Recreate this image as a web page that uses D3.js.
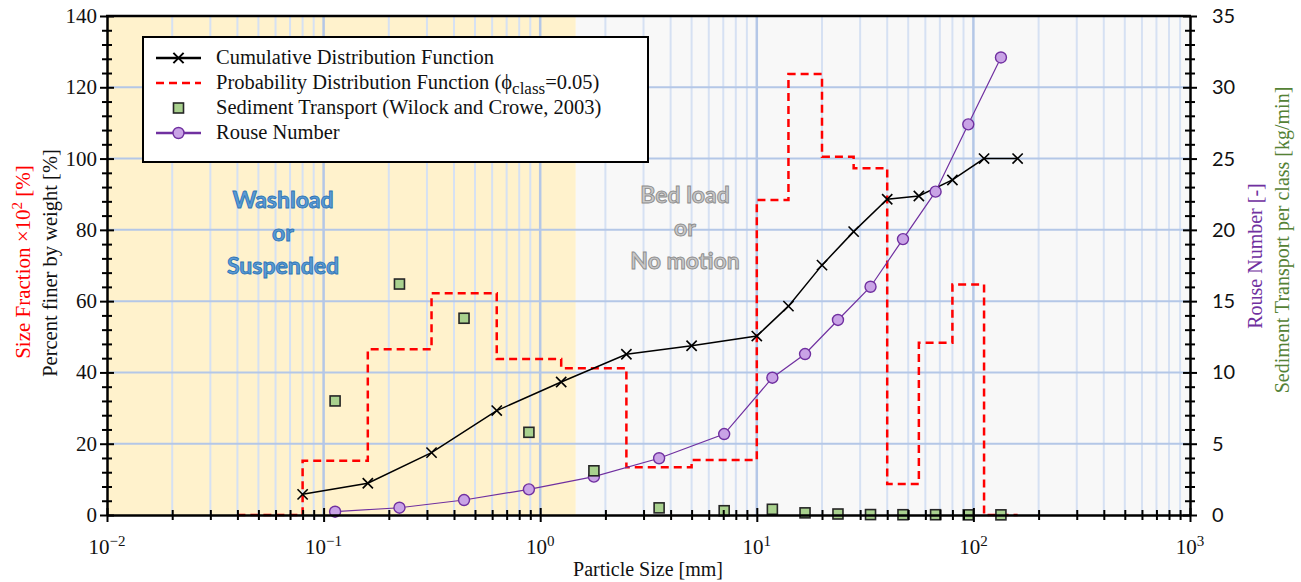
<!DOCTYPE html>
<html>
<head>
<meta charset="utf-8">
<script src="https://cdn.jsdelivr.net/npm/d3@7"></script>
<style>
  html, body { margin: 0; padding: 0; background: #ffffff; }
</style>
</head>
<body>
<script>
// sieve sizes [mm] and cumulative percent finer
const sieveSizes = [0.08, 0.16, 0.315, 0.63, 1.25, 2.5, 5, 10, 14, 20, 28, 40, 56, 80, 112, 160];
const cdfValues = [5.8, 8.9, 17.5, 29.3, 37.3, 45.1, 47.5, 50.2, 58.6, 70.1, 79.5, 88.6, 89.5, 94.0, 100, 100];

// size fraction per class (x10^2 %), class edges
const pdfEdges = [0.04, 0.08, 0.16, 0.315, 0.63, 1.25, 2.5, 5, 10, 14, 20, 28, 40, 56, 80, 112, 160];
const pdfValues = [0, 15.2, 46.5, 62.2, 43.8, 41.2, 13.4, 15.4, 88.4, 123.7, 100.5, 97.3, 8.7, 48.3, 64.7, 0];

// class mean sizes, Rouse number and transport rate
const classMeans = [0.113, 0.224, 0.445, 0.887, 1.77, 3.54, 7.07, 11.8, 16.7, 23.7, 33.5, 47.3, 66.9, 94.7, 134];
const rouseValues = [0.23, 0.51, 1.05, 1.80, 2.69, 3.98, 5.68, 9.63, 11.29, 13.68, 16.01, 19.35, 22.68, 27.40, 32.09];
const transportValues = [8.0, 16.2, 13.8, 5.8, 3.1, 0.5, 0.3, 0.4, 0.15, 0.07, 0.03, 0.02, 0.02, 0.01, 0.01];

const washloadLimit = 1.46;
const xTickExps = [-2, -1, 0, 1, 2, 3];
const leftTicks = [0, 20, 40, 60, 80, 100, 120, 140];
const rightTicks = [0, 5, 10, 15, 20, 25, 30, 35];

const W = 1301, H = 582;
const pL = 107, pR = 1190, pT = 16, pB = 515;
const serif = "'Liberation Serif', 'Times New Roman', serif";
const sans = "Lato, 'Open Sans', sans-serif";

const svg = d3.select('body').append('svg')
  .attr('width', W)
  .attr('height', H)
  .attr('xmlns', 'http://www.w3.org/2000/svg');

const x = d3.scaleLog().domain([0.01, 1000]).range([pL, pR]);
const yL = d3.scaleLinear().domain([0, 140]).range([pB, pT]);
const yR = d3.scaleLinear().domain([0, 35]).range([pB, pT]);

// background zones
svg.append('rect')
  .attr('x', pL).attr('y', pT)
  .attr('width', x(washloadLimit) - pL).attr('height', pB - pT)
  .attr('fill', '#fff2cc');
svg.append('rect')
  .attr('x', x(washloadLimit)).attr('y', pT)
  .attr('width', pR - x(washloadLimit)).attr('height', pB - pT)
  .attr('fill', '#f8f8f8');

// grid
const xAll = x.ticks();
const isDecade = d => Math.abs(Math.log10(d) - Math.round(Math.log10(d))) < 1e-9;
svg.append('g').selectAll('line')
  .data(xAll.filter(d => !isDecade(d)))
  .join('line')
  .attr('x1', d => x(d)).attr('x2', d => x(d))
  .attr('y1', pT).attr('y2', pB)
  .attr('stroke', '#d6e1f3').attr('stroke-width', 2);
svg.append('g').selectAll('line')
  .data(leftTicks.slice(1, -1))
  .join('line')
  .attr('x1', pL).attr('x2', pR)
  .attr('y1', d => yL(d)).attr('y2', d => yL(d))
  .attr('stroke', '#b4c7e7').attr('stroke-width', 2);
svg.append('g').selectAll('line')
  .data(xAll.filter(isDecade).slice(1, -1))
  .join('line')
  .attr('x1', d => x(d)).attr('x2', d => x(d))
  .attr('y1', pT).attr('y2', pB)
  .attr('stroke', '#b4c7e7').attr('stroke-width', 2.5);

// zone labels
function zoneLabel(lines, cx, y0, fill, stroke) {
  const t = svg.append('text')
    .attr('text-anchor', 'middle')
    .attr('font-family', sans)
    .attr('font-weight', 'bold')
    .attr('font-size', 23)
    .attr('fill', fill)
    .attr('stroke', stroke)
    .attr('stroke-width', 0.9);
  lines.forEach((s, i) => {
    t.append('tspan').attr('x', cx).attr('y', y0 + i * 33).text(s);
  });
}
zoneLabel(['Washload', 'or', 'Suspended'], 283, 208, '#5b9bd5', '#2e75b6');
zoneLabel(['Bed load', 'or', 'No motion'], 685, 203, '#c8c8c8', '#8c8c8c');

// PDF step line
const pdfPoints = pdfEdges.map((e, i) => [e, pdfValues[Math.min(i, pdfValues.length - 1)]]);
svg.append('path')
  .datum(pdfPoints)
  .attr('fill', 'none')
  .attr('stroke', '#ff0000')
  .attr('stroke-width', 2.5)
  .attr('stroke-dasharray', '8,5')
  .attr('d', d3.line().x(d => x(d[0])).y(d => yL(d[1])).curve(d3.curveStepAfter));

// CDF
const cdf = sieveSizes.map((s, i) => [s, cdfValues[i]]);
svg.append('path')
  .datum(cdf)
  .attr('fill', 'none')
  .attr('stroke', '#000')
  .attr('stroke-width', 1.5)
  .attr('d', d3.line().x(d => x(d[0])).y(d => yL(d[1])));
const cross = d3.symbol().type(d3.symbolX).size(70);
svg.append('g').selectAll('path')
  .data(cdf)
  .join('path')
  .attr('transform', d => `translate(${x(d[0])},${yL(d[1])})`)
  .attr('d', cross)
  .attr('fill', 'none')
  .attr('stroke', '#000')
  .attr('stroke-width', 1.6);

// Rouse number
const rouse = classMeans.map((s, i) => [s, rouseValues[i]]);
svg.append('path')
  .datum(rouse)
  .attr('fill', 'none')
  .attr('stroke', '#7030a0')
  .attr('stroke-width', 1.2)
  .attr('d', d3.line().x(d => x(d[0])).y(d => yR(d[1])));
svg.append('g').selectAll('circle')
  .data(rouse)
  .join('circle')
  .attr('cx', d => x(d[0])).attr('cy', d => yR(d[1]))
  .attr('r', 5.5)
  .attr('fill', '#c9a3e6')
  .attr('stroke', '#7030a0')
  .attr('stroke-width', 1.4);

// sediment transport
const transport = classMeans.map((s, i) => [s, transportValues[i]]);
svg.append('g').selectAll('rect')
  .data(transport)
  .join('rect')
  .attr('x', d => x(d[0]) - 5).attr('y', d => yR(d[1]) - 5)
  .attr('width', 10).attr('height', 10)
  .attr('fill', '#a9d18e')
  .attr('stroke', '#262626')
  .attr('stroke-width', 1.6);

// axes
function crossTicks(g, major, vertical) {
  g.selectAll('.tick line').each(function(d) {
    const s = major(d) ? 7 : 5;
    const el = d3.select(this);
    if (vertical) el.attr('x1', -s).attr('x2', s).attr('y1', 0).attr('y2', 0);
    else el.attr('y1', -s).attr('y2', s).attr('x1', 0).attr('x2', 0);
  });
  g.selectAll('.tick line').attr('stroke', '#000').attr('stroke-width', 2);
  g.select('.domain').attr('stroke', '#000').attr('stroke-width', 2.5);
}

const gx = svg.append('g')
  .attr('transform', `translate(0,${pB})`)
  .call(d3.axisBottom(x).tickValues(xAll).tickSize(1).tickSizeOuter(0).tickFormat(''));
crossTicks(gx, isDecade, false);

const gl = svg.append('g')
  .attr('transform', `translate(${pL},0)`)
  .call(d3.axisLeft(yL).tickValues(d3.range(0, 141, 4)).tickSize(1).tickSizeOuter(0).tickFormat(''));
crossTicks(gl, d => d % 20 === 0, true);

const gr = svg.append('g')
  .attr('transform', `translate(${pR},0)`)
  .call(d3.axisRight(yR).tickValues(d3.range(0, 36, 1)).tickSize(1).tickSizeOuter(0).tickFormat(''));
crossTicks(gr, d => d % 5 === 0, true);

svg.append('line')
  .attr('x1', pL - 1).attr('x2', pR + 1)
  .attr('y1', pT).attr('y2', pT)
  .attr('stroke', '#000').attr('stroke-width', 2.5);

// tick labels
xTickExps.forEach(e => {
  const t = svg.append('text')
    .attr('x', x(Math.pow(10, e)))
    .attr('y', 554)
    .attr('text-anchor', 'middle')
    .attr('font-family', serif)
    .attr('font-size', 21)
    .attr('fill', '#111');
  t.append('tspan').text('10');
  t.append('tspan').attr('dy', -8).attr('font-size', 15).text(e < 0 ? '\u2212' + (-e) : String(e));
});

svg.append('g').selectAll('text')
  .data(leftTicks)
  .join('text')
  .attr('x', 97)
  .attr('y', d => yL(d) + 7)
  .attr('text-anchor', 'end')
  .attr('font-family', serif)
  .attr('font-size', 21)
  .attr('fill', '#111')
  .text(d => d);

svg.append('g').selectAll('text')
  .data(rightTicks)
  .join('text')
  .attr('x', 1212)
  .attr('y', d => yR(d) + 7)
  .attr('font-family', sans)
  .attr('font-size', 20)
  .attr('fill', '#111')
  .text(d => d);

// axis titles
svg.append('text')
  .attr('x', 648).attr('y', 576)
  .attr('text-anchor', 'middle')
  .attr('font-family', serif)
  .attr('font-size', 20)
  .attr('fill', '#111')
  .text('Particle Size [mm]');

const redTitle = svg.append('text')
  .attr('transform', 'translate(30,262) rotate(-90)')
  .attr('text-anchor', 'middle')
  .attr('font-family', serif)
  .attr('font-size', 21)
  .attr('fill', '#ff0000');
redTitle.append('tspan').text('Size Fraction \u00d710');
redTitle.append('tspan').attr('dy', -8).attr('font-size', 15).text('2');
redTitle.append('tspan').attr('dy', 8).text(' [%]');

svg.append('text')
  .attr('transform', 'translate(57,263) rotate(-90)')
  .attr('text-anchor', 'middle')
  .attr('font-family', serif)
  .attr('font-size', 20.5)
  .attr('fill', '#111')
  .text('Percent finer by weight [%]');

svg.append('text')
  .attr('transform', 'translate(1262,256) rotate(-90)')
  .attr('text-anchor', 'middle')
  .attr('font-family', serif)
  .attr('font-size', 20)
  .attr('fill', '#7030a0')
  .text('Rouse Number [-]');

svg.append('text')
  .attr('transform', 'translate(1289,240) rotate(-90)')
  .attr('text-anchor', 'middle')
  .attr('font-family', serif)
  .attr('font-size', 20)
  .attr('fill', '#548235')
  .text('Sediment Transport per class [kg/min]');

// legend
const lg = svg.append('g');
lg.append('rect')
  .attr('x', 143).attr('y', 37)
  .attr('width', 505).attr('height', 125)
  .attr('fill', '#fff')
  .attr('stroke', '#000')
  .attr('stroke-width', 2);

const rows = [58, 83, 108, 133];
const lx1 = 156, lx2 = 201, lm = 178.5, tx = 216;

lg.append('line').attr('x1', lx1).attr('x2', lx2).attr('y1', rows[0]).attr('y2', rows[0])
  .attr('stroke', '#000').attr('stroke-width', 2.5);
lg.append('path').attr('transform', `translate(${lm},${rows[0]})`).attr('d', cross)
  .attr('fill', 'none').attr('stroke', '#000').attr('stroke-width', 2);

lg.append('line').attr('x1', lx1).attr('x2', lx2).attr('y1', rows[1]).attr('y2', rows[1])
  .attr('stroke', '#ff0000').attr('stroke-width', 2.5).attr('stroke-dasharray', '8,5');

lg.append('rect').attr('x', lm - 5).attr('y', rows[2] - 5).attr('width', 10).attr('height', 10)
  .attr('fill', '#a9d18e').attr('stroke', '#262626').attr('stroke-width', 1.6);

lg.append('line').attr('x1', lx1).attr('x2', lx2).attr('y1', rows[3]).attr('y2', rows[3])
  .attr('stroke', '#7030a0').attr('stroke-width', 2.5);
lg.append('circle').attr('cx', lm).attr('cy', rows[3]).attr('r', 5.5)
  .attr('fill', '#c9a3e6').attr('stroke', '#7030a0').attr('stroke-width', 1.4);

const legText = (row) => lg.append('text')
  .attr('x', tx).attr('y', row + 6)
  .attr('font-family', serif)
  .attr('font-size', 20.5)
  .attr('fill', '#111');

legText(rows[0]).text('Cumulative Distribution Function');
const t2 = legText(rows[1]);
t2.append('tspan').text('Probability Distribution Function (\u03d5');
t2.append('tspan').attr('dy', 5).attr('font-size', 17).text('class');
t2.append('tspan').attr('dy', -5).text('=0.05)');
legText(rows[2]).text('Sediment Transport (Wilock and Crowe, 2003)');
legText(rows[3]).text('Rouse Number');
</script>
</body>
</html>
